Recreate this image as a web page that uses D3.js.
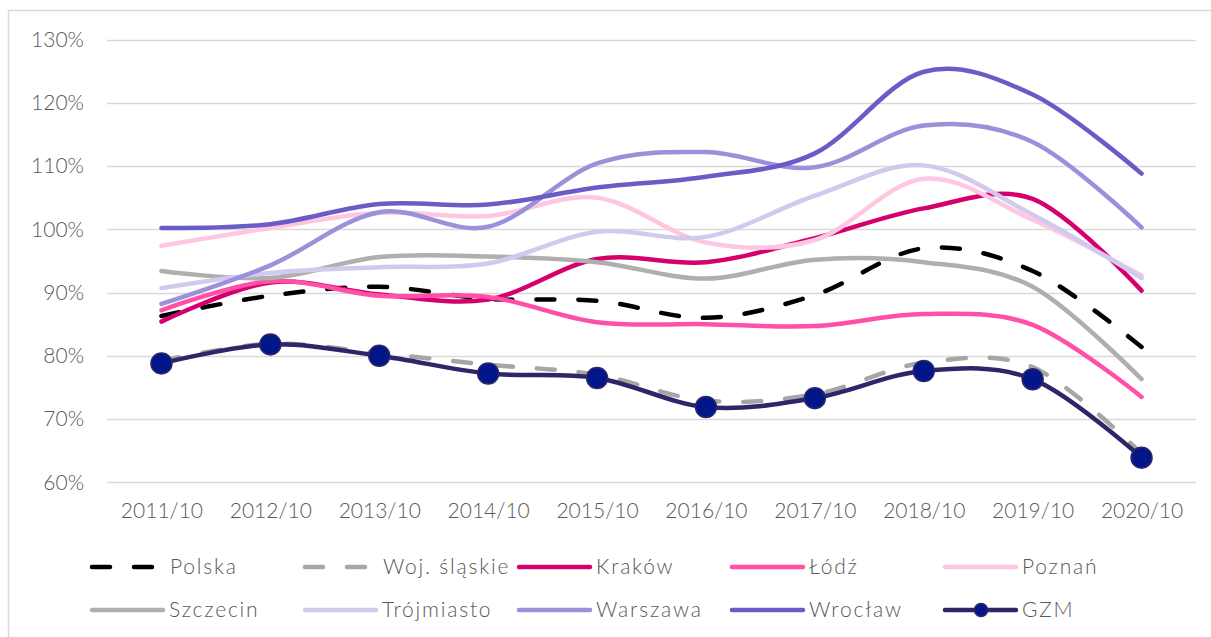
<!DOCTYPE html>
<html>
<head>
<meta charset="utf-8">
<script src="https://cdn.jsdelivr.net/npm/d3@7/dist/d3.min.js"></script>
<style>
  html, body { margin: 0; padding: 0; background: #ffffff; }
  svg { display: block; }
  text { font-family: "Lato", "Open Sans", sans-serif; font-weight: 300; fill: #595959; }
</style>
</head>
<body>
<svg id="chart" width="1211" height="637"></svg>
<script>
// Categories (October of each year)
const categories = ["2011/10", "2012/10", "2013/10", "2014/10", "2015/10",
                    "2016/10", "2017/10", "2018/10", "2019/10", "2020/10"];

// Series values, in percent
const polska      = [86.3, 89.5, 90.9, 89.0, 88.7, 86.0, 89.6, 97.0, 93.4, 81.4];
const wojSlaskie  = [79.2, 81.9, 80.4, 78.6, 77.0, 72.9, 73.9, 78.9, 78.2, 64.5];
const krakow      = [85.4, 91.6, 89.7, 88.9, 95.3, 94.8, 98.6, 103.3, 104.8, 90.3];
const lodz        = [87.2, 91.8, 89.5, 89.3, 85.3, 85.0, 84.7, 86.6, 84.9, 73.5];
const poznan      = [97.4, 100.2, 102.6, 102.1, 105.0, 97.9, 98.3, 108.0, 101.5, 92.7];
const szczecin    = [93.4, 92.3, 95.6, 95.7, 94.8, 92.2, 95.2, 94.8, 90.9, 76.3];
const trojmiasto  = [90.7, 93.1, 94.0, 94.6, 99.6, 98.8, 105.3, 110.1, 102.3, 92.3];
const warszawa    = [88.2, 94.3, 102.7, 100.4, 110.4, 112.2, 109.8, 116.4, 113.8, 100.3];
const wroclaw     = [100.2, 100.8, 104.0, 103.9, 106.6, 108.3, 112.0, 124.9, 121.3, 108.8];
const gzm         = [78.8, 81.8, 80.0, 77.2, 76.5, 71.9, 73.3, 77.6, 76.3, 63.9];

// Y axis ticks, in percent
const yTicks = [60, 70, 80, 90, 100, 110, 120, 130];

const series = [
  { name: "Polska",       values: polska,     color: "#000000", dashed: true },
  { name: "Woj. śląskie", values: wojSlaskie, color: "#a6a6a6", dashed: true },
  { name: "Kraków",       values: krakow,     color: "#d5006e" },
  { name: "Łódź",         values: lodz,       color: "#ff4fa6" },
  { name: "Poznań",       values: poznan,     color: "#ffc6e2" },
  { name: "Szczecin",     values: szczecin,   color: "#afafaf" },
  { name: "Trójmiasto",   values: trojmiasto, color: "#d1c9ee" },
  { name: "Warszawa",     values: warszawa,   color: "#9c90da" },
  { name: "Wrocław",      values: wroclaw,    color: "#6b5bc7" },
  { name: "GZM",          values: gzm,        color: "#2f2569", marker: true }
];

const svg = d3.select("#chart");

// Outer frame of the chart area
svg.append("rect")
  .attr("x", 8.5).attr("y", 10.5)
  .attr("width", 1220).attr("height", 640)
  .attr("fill", "none")
  .attr("stroke", "#d9d9d9")
  .attr("stroke-width", 1.5);

const x = d3.scalePoint()
  .domain(categories)
  .range([107, 1196])
  .padding(0.5);

const y = d3.scaleLinear()
  .domain([60, 130])
  .range([482.3, 39.5]);

// Horizontal gridlines
svg.append("g")
  .selectAll("line")
  .data(yTicks)
  .join("line")
  .attr("x1", 107).attr("x2", 1196)
  .attr("y1", d => Math.round(y(d)) + 0.5)
  .attr("y2", d => Math.round(y(d)) + 0.5)
  .attr("stroke", "#d9d9d9")
  .attr("stroke-width", 1.5);

// Y axis labels
const yAxis = d3.axisLeft(y)
  .tickValues(yTicks)
  .tickFormat(d => d + "%")
  .tickSize(0)
  .tickPadding(0);

svg.append("g")
  .attr("transform", "translate(84,0)")
  .call(yAxis)
  .call(g => g.select(".domain").remove())
  .call(g => g.selectAll("text")
    .attr("font-size", 21)
    .attr("font-family", "Lato, sans-serif")
    .attr("font-weight", 300)
    .attr("fill", "#595959"));

// X axis labels
const xAxis = d3.axisBottom(x).tickSize(0).tickPadding(0);
svg.append("g")
  .attr("transform", "translate(0,503)")
  .call(xAxis)
  .call(g => g.select(".domain").remove())
  .call(g => g.selectAll("text")
    .attr("font-size", 21)
    .attr("font-family", "Lato, sans-serif")
    .attr("font-weight", 300)
    .attr("fill", "#595959"));

// Lines
const line = d3.line()
  .x((d, i) => x(categories[i]))
  .y(d => y(d))
  .curve(d3.curveCardinal.tension(0));

const lineG = svg.append("g");
series.forEach(s => {
  lineG.append("path")
    .datum(s.values)
    .attr("d", line)
    .attr("fill", "none")
    .attr("stroke", s.color)
    .attr("stroke-width", 4.5)
    .attr("stroke-linecap", "round")
    .attr("stroke-linejoin", "round")
    .attr("stroke-dasharray", s.dashed ? "18 24" : null);
  if (s.marker) {
    lineG.append("g")
      .selectAll("circle")
      .data(s.values)
      .join("circle")
      .attr("cx", (d, i) => x(categories[i]))
      .attr("cy", d => y(d))
      .attr("r", 10.5)
      .attr("fill", "#001689")
      .attr("stroke", s.color)
      .attr("stroke-width", 1.5);
  }
});

// Legend: two rows of five entries
const legend = svg.append("g");
const colX = [92, 305, 519, 732, 945];
const rowY = [567, 610];
series.forEach((s, i) => {
  const gx = colX[i % 5];
  const gy = rowY[Math.floor(i / 5)];
  const g = legend.append("g").attr("transform", `translate(${gx},${gy})`);
  g.append("line")
    .attr("x1", 0).attr("x2", s.dashed ? 65 : 71)
    .attr("y1", 0).attr("y2", 0)
    .attr("stroke", s.color)
    .attr("stroke-width", 4.5)
    .attr("stroke-linecap", "round")
    .attr("stroke-dasharray", s.dashed ? "18 24" : null);
  if (s.marker) {
    g.append("circle")
      .attr("cx", 36).attr("cy", 0).attr("r", 6.5)
      .attr("fill", "#001689")
      .attr("stroke", s.color)
      .attr("stroke-width", 1.5);
  }
  g.append("text")
    .attr("x", s.dashed ? 78 : 77)
    .attr("y", 0)
    .attr("dy", "0.35em")
    .attr("font-size", 21)
    .attr("letter-spacing", 1.8)
    .text(s.name);
});
</script>
</body>
</html>
